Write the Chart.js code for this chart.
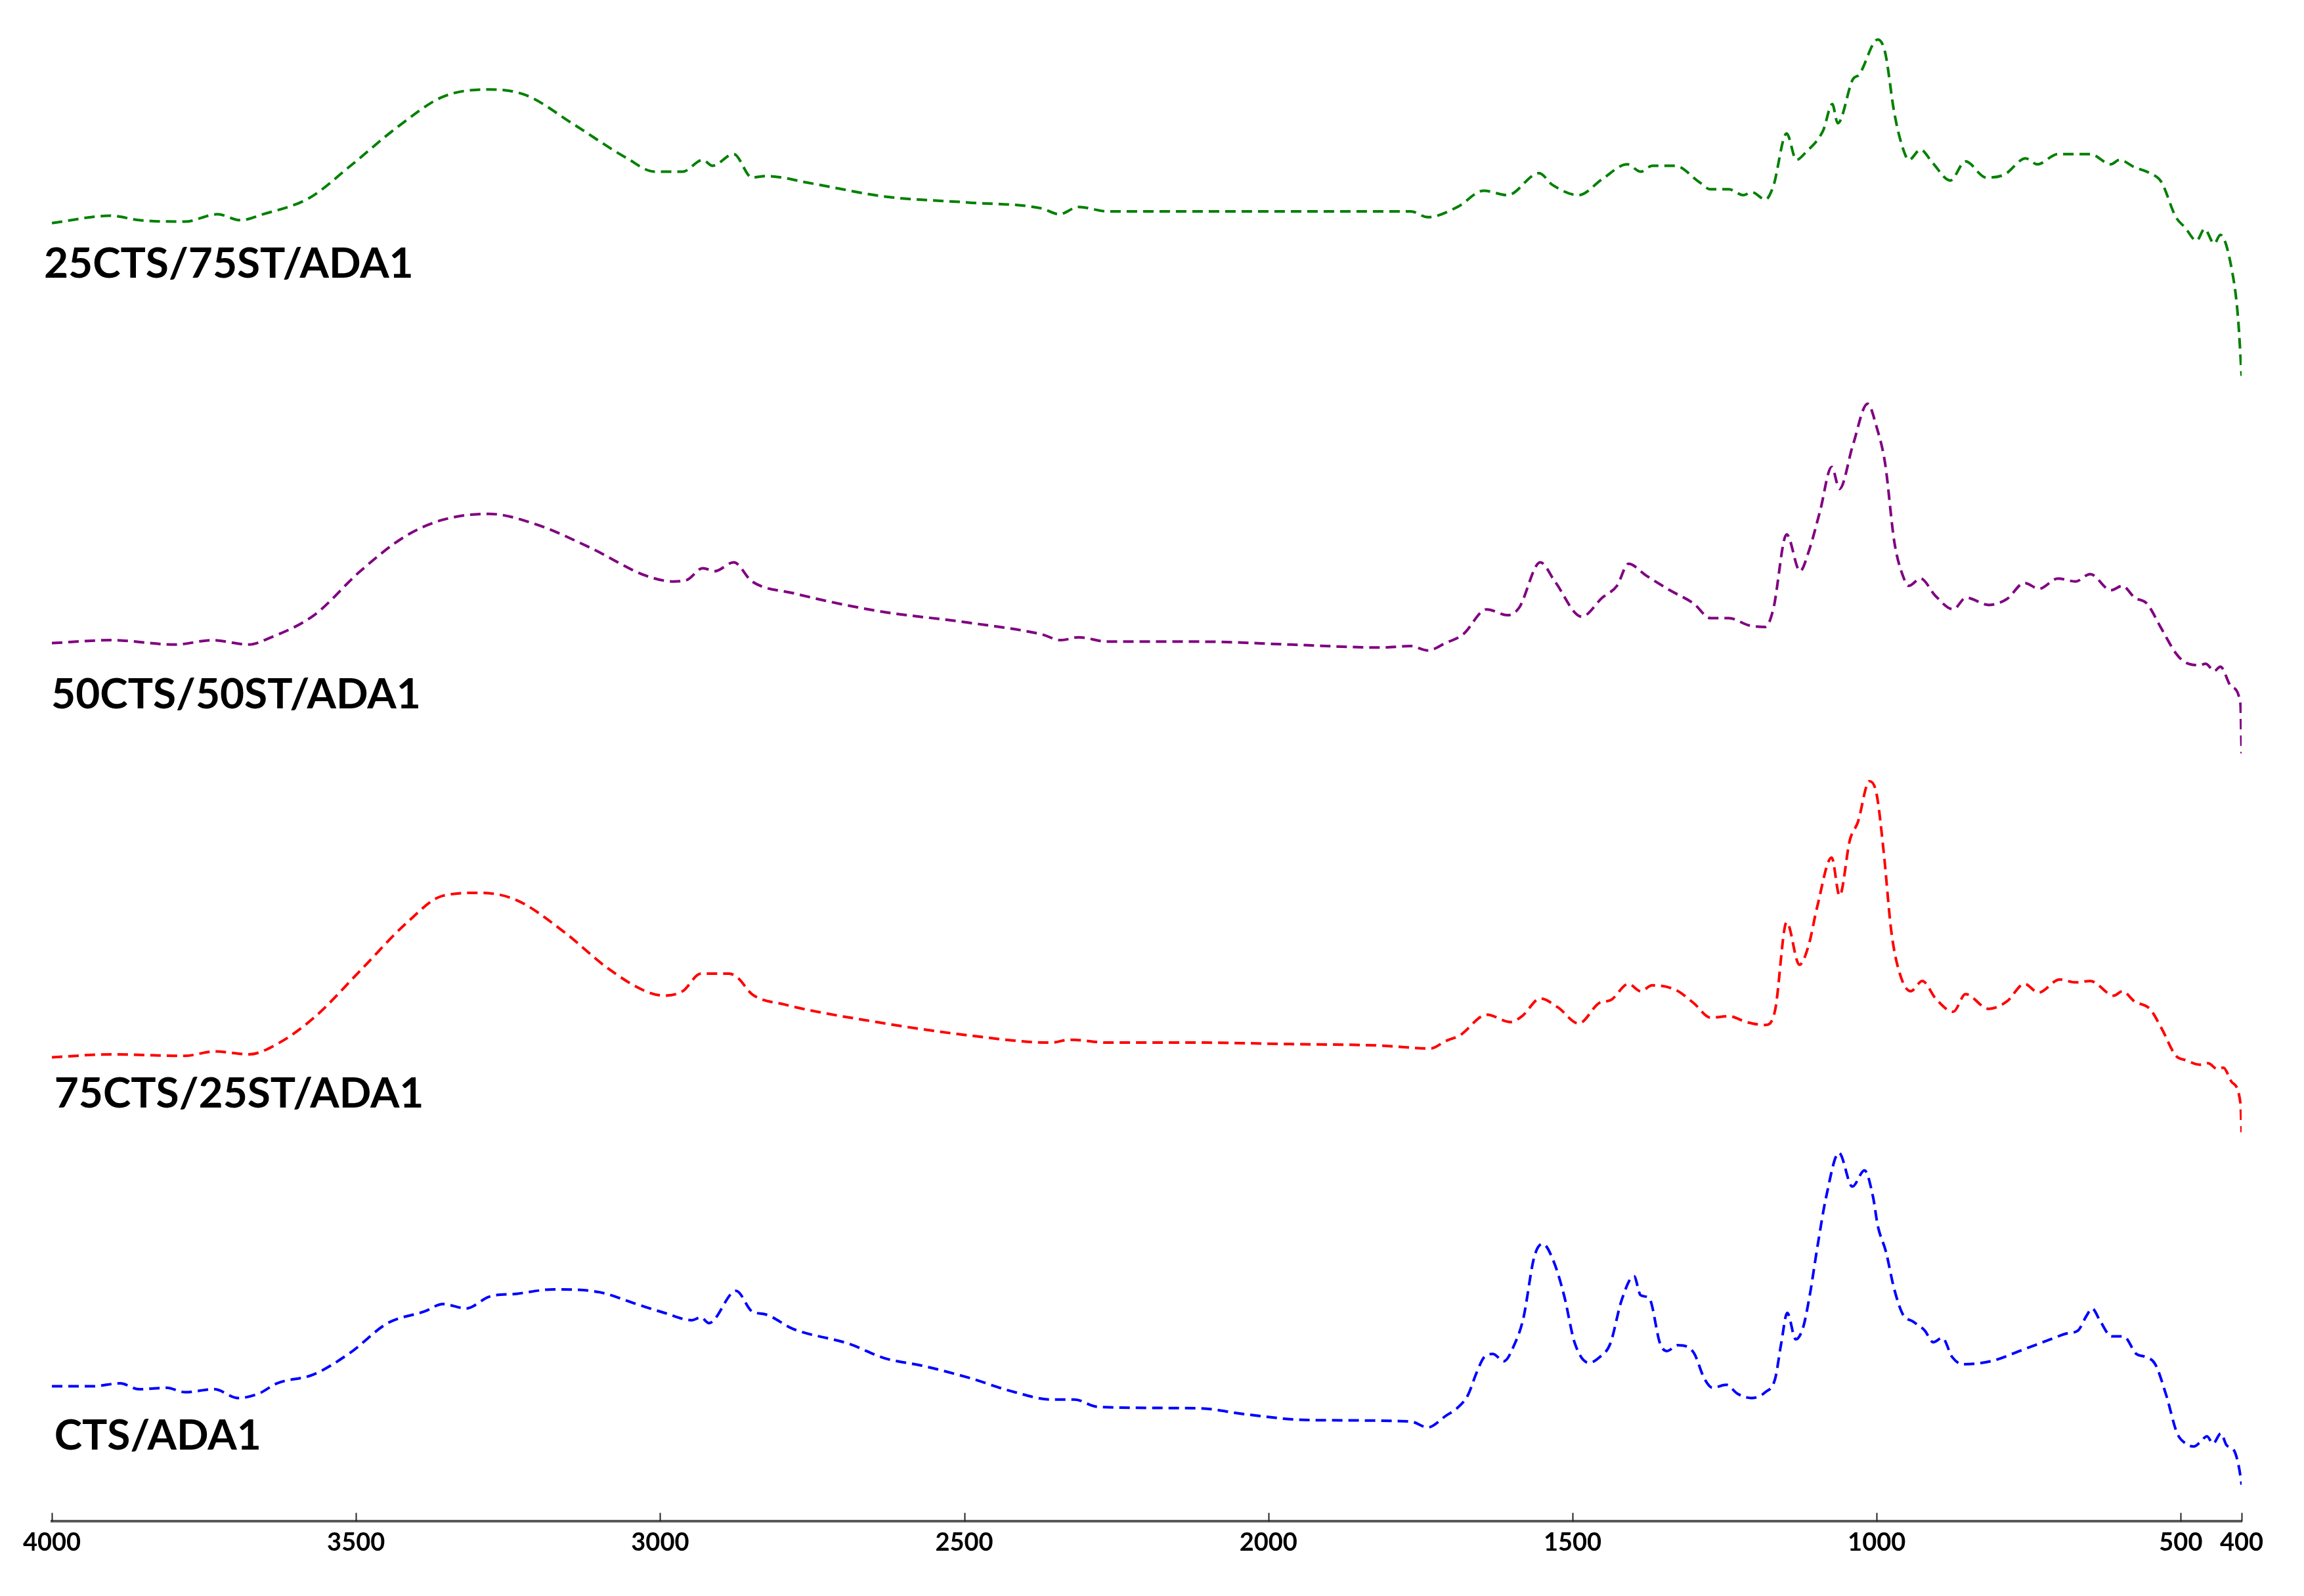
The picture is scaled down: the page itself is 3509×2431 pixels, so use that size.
<!DOCTYPE html>
<html>
<head>
<meta charset="utf-8">
<title>FTIR</title>
<script src="https://cdn.jsdelivr.net/npm/chart.js@4.4.1/dist/chart.umd.min.js"></script>
<style>
    html, body { margin: 0; padding: 0; background: #fff; }
    #wrap { width: 3509px; height: 2431px; }
</style>
</head>
<body>
<div id="wrap"><canvas id="ftir" width="3509" height="2431"></canvas></div>
<script>
// Eixo x (cm-1), ticks fixos como na figura
const tickValues = [4000, 3500, 3000, 2500, 2000, 1500, 1000, 500, 400];

const seriesNames = ['25CTS/75ST/ADA1', '50CTS/50ST/ADA1', '75CTS/25ST/ADA1', 'CTS/ADA1'];

// 25CTS/75ST/ADA1 (verde)
const wn25 = [4000, 3903, 3857, 3781, 3728, 3690, 3653, 3577, 3509, 3433, 3357, 3281, 3220, 3145, 3054, 3009, 2963, 2930, 2914, 2879,
    2849, 2826, 2751, 2630, 2494, 2373, 2344, 2312, 2265, 1963, 1817, 1766, 1738, 1689, 1646, 1607, 1555, 1533, 1490, 1451,
    1410, 1388, 1369, 1331, 1292, 1273, 1243, 1219, 1205, 1183, 1170, 1148, 1132, 1117, 1088, 1073, 1064, 1039, 1029, 998,
    986, 971, 957, 947, 928, 908, 879, 854, 820, 790, 755, 736, 702, 649, 615, 601, 576, 551, 532, 508,
    493, 474, 461, 445, 435, 416, 406, 400];
const val25 = [88.4, 88.9, 88.6, 88.5, 89.0, 88.6, 89.0, 90.1, 92.3, 94.9, 97.0, 97.5, 97.1, 95.2, 92.8, 91.9, 91.9, 92.7, 92.3, 93.1,
    91.5, 91.6, 91.1, 90.2, 89.8, 89.4, 89.0, 89.5, 89.2, 89.2, 89.2, 89.2, 88.8, 89.5, 90.6, 90.3, 91.8, 91.0, 90.3, 91.4,
    92.4, 91.9, 92.3, 92.3, 91.2, 90.7, 90.7, 90.3, 90.5, 90.0, 90.9, 94.5, 92.7, 93.2, 94.7, 96.5, 95.2, 98.2, 98.5, 100.9,
    100.0, 95.9, 93.5, 92.7, 93.4, 92.5, 91.3, 92.6, 91.5, 91.7, 92.8, 92.4, 93.1, 93.1, 92.4, 92.7, 92.2, 91.8, 91.2, 88.8,
    88.1, 87.2, 88.0, 87.0, 87.6, 85.2, 82.0, 78.0];

// 50CTS/50ST/ADA1 (roxo)
const wn50 = [4000, 3903, 3797, 3736, 3676, 3645, 3569, 3493, 3418, 3357, 3281, 3205, 3115, 3024, 2978, 2956, 2930, 2910, 2879, 2849,
    2781, 2644, 2494, 2373, 2341, 2312, 2265, 2114, 1963, 1816, 1766, 1738, 1709, 1680, 1641, 1607, 1588, 1553, 1529, 1485,
    1451, 1427, 1408, 1379, 1340, 1301, 1273, 1243, 1209, 1183, 1170, 1148, 1126, 1112, 1093, 1074, 1061, 1039, 1015, 1000,
    986, 971, 957, 947, 928, 903, 874, 853, 816, 786, 757, 733, 702, 673, 649, 615, 596, 576, 556, 532,
    508, 493, 469, 459, 445, 435, 416, 402, 400];
const val50 = [59.8, 60.0, 59.7, 60.0, 59.7, 60.1, 61.7, 64.7, 67.1, 68.2, 68.6, 67.9, 66.3, 64.4, 64.0, 64.1, 64.9, 64.7, 65.3, 64.0,
    63.2, 62.0, 61.2, 60.4, 60.0, 60.2, 59.9, 59.9, 59.7, 59.5, 59.6, 59.3, 59.8, 60.4, 62.1, 61.7, 62.2, 65.3, 64.0, 61.6,
    62.9, 63.7, 65.2, 64.4, 63.4, 62.5, 61.5, 61.5, 61.0, 60.9, 62.1, 67.2, 64.7, 66.0, 68.8, 71.8, 70.3, 73.3, 76.1, 74.5,
    72.0, 66.7, 64.4, 63.7, 64.2, 63.0, 62.1, 62.9, 62.4, 62.8, 63.9, 63.5, 64.2, 64.0, 64.5, 63.4, 63.7, 62.9, 62.5, 60.8,
    59.1, 58.5, 58.3, 58.4, 57.9, 58.2, 56.8, 55.7, 52.3];

// 75CTS/25ST/ADA1 (vermelho)
const wn75 = [4000, 3903, 3781, 3733, 3676, 3630, 3569, 3493, 3418, 3357, 3296, 3236, 3160, 3084, 3024, 2993, 2963, 2933, 2887, 2872,
    2849, 2796, 2644, 2494, 2357, 2327, 2265, 2114, 1963, 1816, 1733, 1709, 1685, 1641, 1602, 1583, 1553, 1524, 1490, 1456,
    1437, 1408, 1388, 1369, 1331, 1301, 1273, 1243, 1214, 1183, 1167, 1148, 1127, 1112, 1098, 1074, 1061, 1044, 1031, 1012,
    1000, 988, 976, 962, 944, 925, 903, 874, 854, 816, 786, 757, 734, 699, 673, 649, 610, 596, 576, 551,
    532, 508, 491, 469, 455, 440, 430, 416, 402, 400];
const val75 = [31.6, 31.8, 31.7, 32.0, 31.8, 32.5, 34.3, 37.5, 40.7, 42.6, 42.8, 42.3, 40.2, 37.6, 36.1, 35.8, 36.1, 37.3, 37.3, 37.0,
    35.9, 35.2, 34.0, 33.1, 32.6, 32.8, 32.6, 32.6, 32.5, 32.4, 32.2, 32.7, 33.1, 34.5, 34.0, 34.4, 35.6, 35.0, 33.9, 35.3,
    35.5, 36.6, 36.1, 36.5, 36.2, 35.3, 34.3, 34.4, 34.0, 33.8, 34.8, 40.8, 37.9, 39.2, 41.8, 45.2, 42.6, 46.4, 47.6, 50.4,
    49.5, 45.4, 40.2, 37.3, 36.1, 36.8, 35.6, 34.7, 35.9, 34.9, 35.4, 36.6, 36.0, 36.9, 36.7, 36.8, 35.8, 36.1, 35.4, 34.9,
    33.6, 31.7, 31.4, 31.1, 31.2, 30.8, 30.9, 29.9, 28.5, 26.5];

// CTS/ADA1 (azul)
const wnCts = [4000, 3933, 3888, 3857, 3812, 3781, 3733, 3694, 3660, 3630, 3570, 3509, 3448, 3387, 3357, 3319, 3281, 3236, 3175, 3099,
    3039, 2993, 2948, 2933, 2920, 2875, 2849, 2827, 2781, 2690, 2630, 2569, 2494, 2417, 2357, 2319, 2281, 2114, 2039, 1933,
    1766, 1738, 1708, 1690, 1672, 1658, 1645, 1631, 1613, 1595, 1581, 1563, 1549, 1531, 1514, 1496, 1473, 1455, 1438, 1419,
    1399, 1388, 1374, 1356, 1345, 1327, 1301, 1283, 1270, 1247, 1229, 1206, 1183, 1167, 1157, 1147, 1133, 1121, 1110, 1097,
    1083, 1062, 1040, 1020, 1006, 998, 985, 971, 957, 940, 921, 907, 892, 876, 858, 813, 759, 714, 687, 669,
    655, 646, 632, 614, 594, 573, 558, 542, 524, 506, 492, 479, 468, 457, 447, 434, 425, 412, 404, 400];
const valCts = [9.2, 9.2, 9.4, 9.0, 9.1, 8.8, 9.0, 8.4, 8.7, 9.4, 10.0, 11.5, 13.5, 14.3, 14.8, 14.5, 15.3, 15.5, 15.8, 15.6,
    14.8, 14.2, 13.7, 13.9, 13.5, 15.7, 14.3, 14.1, 13.1, 12.1, 11.1, 10.6, 9.8, 8.8, 8.3, 8.3, 7.8, 7.7, 7.3, 6.9,
    6.8, 6.4, 7.2, 7.7, 8.6, 10.1, 11.2, 11.4, 10.9, 12.1, 13.8, 18.0, 18.9, 17.7, 15.4, 12.1, 10.8, 11.2, 12.1, 15.1,
    16.7, 15.4, 15.2, 12.1, 11.6, 12.0, 11.5, 9.7, 9.1, 9.3, 8.7, 8.4, 8.8, 9.7, 12.1, 14.2, 12.4, 13.2, 15.4, 18.8,
    22.1, 25.1, 22.8, 23.9, 22.1, 20.1, 18.4, 15.8, 14.1, 13.6, 13.0, 12.2, 12.5, 11.2, 10.7, 10.9, 11.7, 12.4, 12.8, 13.0,
    14.0, 14.5, 13.6, 12.6, 12.6, 11.4, 11.2, 10.7, 8.6, 6.0, 5.3, 5.1, 5.4, 5.8, 5.3, 6.0, 5.2, 4.8, 3.6, 2.5];

class FtirChart {
    constructor(canvasId) {
        this.canvas = document.getElementById(canvasId);
        this.series = [
            { name: seriesNames[0], wn: wn25, val: val25, color: 'rgb(0, 128, 0)', labelWn: 4013, labelLevel: 85.6 },
            { name: seriesNames[1], wn: wn50, val: val50, color: 'rgb(128, 0, 128)', labelWn: 4001, labelLevel: 56.3 },
            { name: seriesNames[2], wn: wn75, val: val75, color: 'rgb(255, 0, 0)', labelWn: 3996, labelLevel: 29.1 },
            { name: seriesNames[3], wn: wnCts, val: valCts, color: 'rgb(0, 0, 255)', labelWn: 3996, labelLevel: 5.8 }
        ];
        this.chart = null;
    }

    toPoints(wn, val) {
        const n = Math.min(wn.length, val.length);
        const pts = [];
        for (let i = 0; i < n; i++) pts.push({ x: wn[i], y: val[i] });
        return pts;
    }

    // nomes das amostras ao lado das curvas
    labelPlugin() {
        const series = this.series;
        return {
            id: 'sampleLabels',
            afterDatasetsDraw(chart) {
                const { ctx, scales: { x, y } } = chart;
                ctx.save();
                ctx.font = 'bold 64px Lato';
                ctx.fillStyle = '#000';
                ctx.textAlign = 'left';
                ctx.textBaseline = 'middle';
                series.forEach(s => {
                    ctx.fillText(s.name, x.getPixelForValue(s.labelWn), y.getPixelForValue(s.labelLevel));
                });
                ctx.restore();
            }
        };
    }

    // marcas dos ticks para cima do eixo
    tickMarkPlugin() {
        return {
            id: 'tickMarks',
            afterDraw(chart) {
                const { ctx, chartArea, scales: { x } } = chart;
                ctx.save();
                ctx.strokeStyle = '#222';
                ctx.lineWidth = 2;
                x.ticks.forEach(t => {
                    const px = Math.round(x.getPixelForValue(t.value)) + 0.5;
                    ctx.beginPath();
                    ctx.moveTo(px, chartArea.bottom);
                    ctx.lineTo(px, chartArea.bottom - 13);
                    ctx.stroke();
                });
                ctx.restore();
            }
        };
    }

    render() {
        const datasets = this.series.map(s => ({
            label: s.name,
            data: this.toPoints(s.wn, s.val),
            borderColor: s.color,
            backgroundColor: s.color,
            borderWidth: 4,
            borderDash: [16, 9],
            pointRadius: 0,
            fill: false,
            cubicInterpolationMode: 'monotone'
        }));

        this.chart = new Chart(this.canvas.getContext('2d'), {
            type: 'line',
            data: { datasets },
            options: {
                responsive: false,
                animation: false,
                layout: { padding: { top: 40, left: 79, right: 95, bottom: 48 } },
                plugins: {
                    legend: { display: false },
                    tooltip: { enabled: false }
                },
                scales: {
                    x: {
                        type: 'linear',
                        reverse: true,
                        min: 400,
                        max: 4000,
                        afterBuildTicks: scale => {
                            scale.ticks = tickValues.map(v => ({ value: v }));
                        },
                        grid: { display: false, drawTicks: false },
                        border: { display: true, color: '#5a5a5a', width: 4 },
                        ticks: {
                            autoSkip: false,
                            maxRotation: 0,
                            padding: 10,
                            color: '#000',
                            font: { family: 'Lato', weight: 'bold', size: 38 },
                            callback: v => String(v)
                        }
                    },
                    y: { display: false, min: 0, max: 101.8 }
                }
            },
            plugins: [this.labelPlugin(), this.tickMarkPlugin()]
        });
    }
}

const ftir = new FtirChart('ftir');
document.fonts.load('bold 38px Lato').finally(() => ftir.render());
</script>
</body>
</html>
